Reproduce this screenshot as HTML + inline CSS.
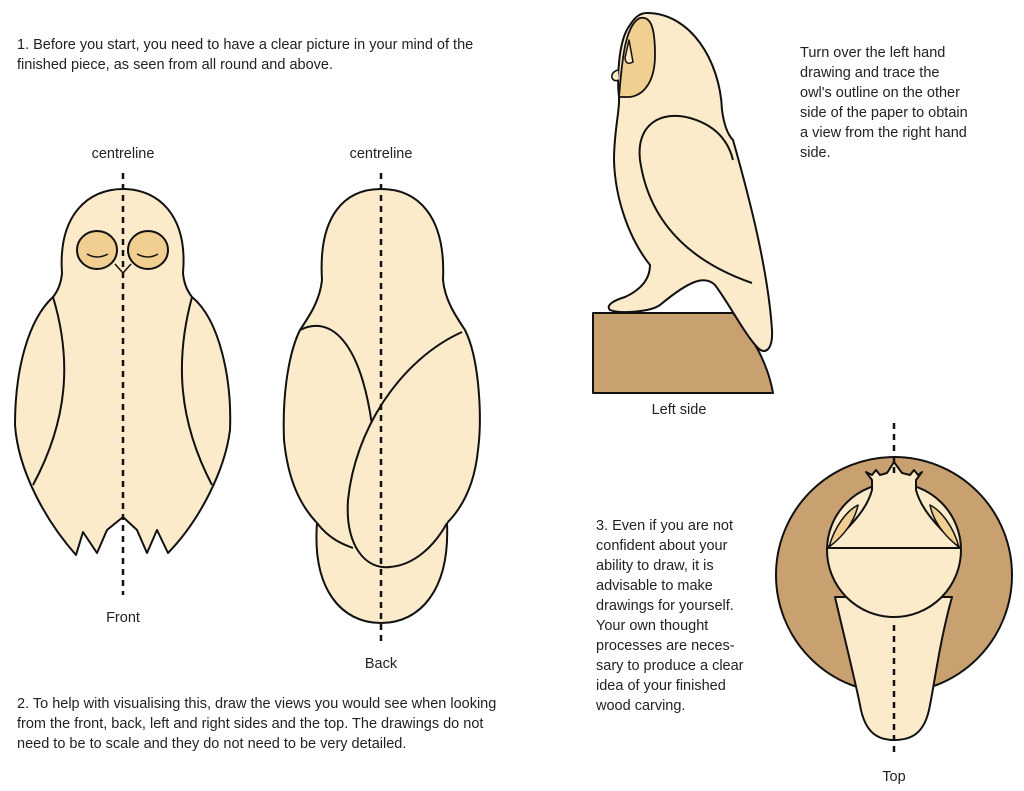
<!DOCTYPE html>
<html><head><style>
body{margin:0;width:1024px;height:791px;background:#fff;overflow:hidden}
svg{display:block}
text{font-family:"Liberation Sans",sans-serif;font-size:14.5px;fill:#222}
</style></head><body>
<svg width="1024" height="791" viewBox="0 0 1024 791">
<g stroke="#111" stroke-width="2" stroke-linejoin="round" fill="#fcebcb">
<!-- FRONT -->
<path d="M62,273 C58,215 88,189 123,189 C158,189 188,215 183,273 C184,285 188,292 192,297 C220,320 232,380 230,430 C225,470 200,520 168,553 L157,530 L147,553 L137,530 L123,517 L107,530 L97,553 L83,532 L76,555 C45,520 18,470 15,425 C15,370 28,320 53,297 C57,292 61,285 62,273Z"/>
<path d="M53,297 C72,360 68,420 33,485" fill="none"/>
<path d="M192,297 C175,360 178,420 212,485" fill="none"/>
<ellipse cx="97" cy="250" rx="20" ry="19" fill="#f0cf90"/>
<ellipse cx="148" cy="250" rx="20" ry="19" fill="#f0cf90"/>
<path d="M87,254 Q97,260 108,254 M137,254 Q148,260 158,254" fill="none" stroke-width="1.5"/>
<path d="M115,264 L123,273 L131,264" fill="none" stroke-width="1.5"/>
<!-- BACK -->
<path d="M322,280 C318,215 345,189 381,189 C417,189 446,215 443,280 C445,300 455,315 465,330 C480,360 482,420 478,450 C475,480 465,505 447,523 C450,590 420,623 381,623 C342,623 312,590 317,523 C300,505 288,480 284,440 C282,390 290,350 300,330 C310,315 320,300 322,280Z"/>
<path d="M317,523 C330,540 345,545 353,548" fill="none"/>
<path d="M300,330 C330,315 360,340 372,425" fill="none"/>
<path d="M462,332 C400,360 355,430 348,500 C345,545 365,570 390,567 C415,565 435,545 447,523" />
<!-- SIDE -->
<path d="M593,313 L733,313 C755,340 768,365 773,393 L593,393Z" fill="#c9a070"/>
<path d="M647,13 C690,13 720,60 722,110 C724,125 728,135 733,140 C750,200 768,270 772,330 C773,350 765,355 758,348 C745,335 730,305 715,285 C705,275 690,280 660,305 C650,312 620,314 610,310 C605,305 615,300 625,297 C640,290 650,280 650,265 C630,240 615,200 614,160 C614,130 620,110 619,97 C617,80 618,40 630,25 C635,17 640,13 647,13Z"/>
<path d="M619,97 C622,60 625,25 640,18 C650,16 655,25 655,55 C655,80 645,95 630,97Z" fill="#f0cf90" stroke-width="1.8"/>
<path d="M629,40 L633,62 Q626,66 625,58 Z" fill="#fcebcb" stroke-width="1.5"/>
<path d="M618,70 Q611,72 612,78 Q614,82 619,80" fill="#fcebcb" stroke-width="1.5"/>
<path d="M752,283 C700,265 650,230 640,160 C636,125 660,110 690,118 C715,125 728,140 733,160" fill="none"/>
<!-- TOP -->
<circle cx="894" cy="575" r="118" fill="#c9a070"/>
<path d="M835,597 C845,640 855,680 860,705 C865,735 880,740 894,740 C910,740 925,735 930,705 C935,680 940,640 952,597Z"/>
<circle cx="894" cy="550" r="67"/>
<path d="M872,490 L872,480 L866,472 L872,475 L876,470 L880,475 L887,473 L894,462 L902,473 L910,475 L914,470 L918,475 L922,472 L916,480 L916,490 C920,505 930,520 960,548 L827,548 C858,520 868,505 872,490Z"/>
<path d="M829,547 C835,525 848,510 858,505 C855,520 845,535 829,547Z" fill="#f0cf90" stroke-width="1.5"/>
<path d="M959,547 C953,525 940,510 930,505 C933,520 943,535 959,547Z" fill="#f0cf90" stroke-width="1.5"/>
</g>
<g stroke="#111" stroke-width="2.5" stroke-dasharray="6,5" fill="none">
<line x1="123" y1="173" x2="123" y2="595"/>
<line x1="381" y1="173" x2="381" y2="642"/>
<line x1="894" y1="423" x2="894" y2="478"/>
<line x1="894" y1="625" x2="894" y2="755"/>
</g>
<text x="17" y="49">1. Before you start, you need to have a clear picture in your mind of the</text>
<text x="17" y="69">finished piece, as seen from all round and above.</text>
<text x="123" y="158" text-anchor="middle">centreline</text>
<text x="381" y="158" text-anchor="middle">centreline</text>
<text x="123" y="622" text-anchor="middle">Front</text>
<text x="381" y="668" text-anchor="middle">Back</text>
<text x="17" y="708">2. To help with visualising this, draw the views you would see when looking</text>
<text x="17" y="728">from the front, back, left and right sides and the top. The drawings do not</text>
<text x="17" y="748">need to be to scale and they do not need to be very detailed.</text>
<text x="800" y="57">Turn over the left hand</text>
<text x="800" y="77">drawing and trace the</text>
<text x="800" y="97">owl's outline on the other</text>
<text x="800" y="117">side of the paper to obtain</text>
<text x="800" y="137">a view from the right hand</text>
<text x="800" y="157">side.</text>
<text x="679" y="414" text-anchor="middle">Left side</text>
<text x="596" y="530">3. Even if you are not</text>
<text x="596" y="550">confident about your</text>
<text x="596" y="570">ability to draw, it is</text>
<text x="596" y="590">advisable to make</text>
<text x="596" y="610">drawings for yourself.</text>
<text x="596" y="630">Your own thought</text>
<text x="596" y="650">processes are neces-</text>
<text x="596" y="670">sary to produce a clear</text>
<text x="596" y="690">idea of your finished</text>
<text x="596" y="710">wood carving.</text>
<text x="894" y="781" text-anchor="middle">Top</text>
</svg>
</body></html>
